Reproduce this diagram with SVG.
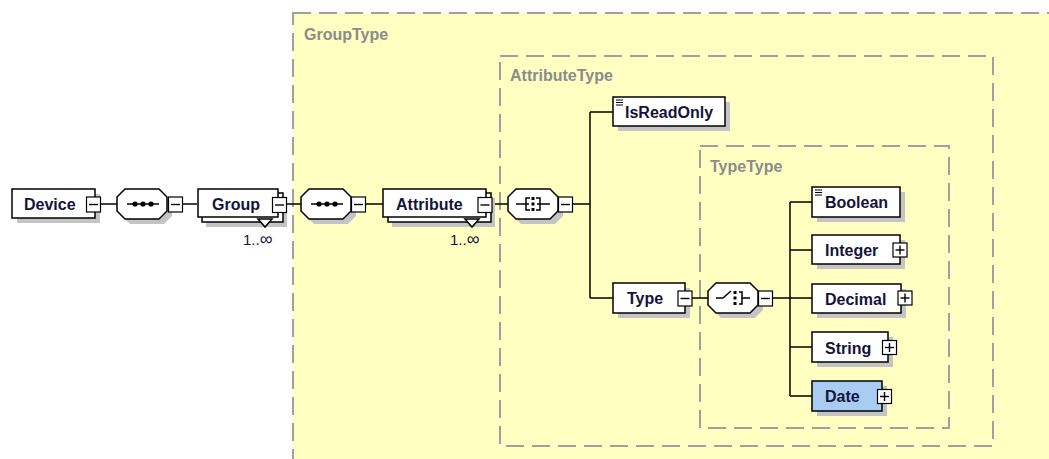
<svg xmlns="http://www.w3.org/2000/svg" width="1049" height="459" viewBox="0 0 1049 459">
  <style>
    .area { fill: #FFFFC2; stroke: #A0A0A0; stroke-width: 2; stroke-dasharray: 18 8; }
    .area-label { font-family: "Liberation Sans", Arial, sans-serif; font-weight: bold; font-size: 16px; fill: #8C8C8C; }
    .shadow { fill: #C4C4C4; }
    .box { fill: #FFFFFF; stroke: #000000; stroke-width: 1.5; }
    .box-sel { fill: #A8CCF2; stroke: #000000; stroke-width: 1.5; }
    .name { font-family: "Liberation Sans", Arial, sans-serif; font-weight: bold; font-size: 16px; fill: #14143A; }
    .occ { font-family: "Liberation Sans", Arial, sans-serif; font-size: 15px; fill: #14143A; }
    .btn { fill: #FFFFFF; stroke: #000000; stroke-width: 1.2; }
    .glyph { stroke: #000000; stroke-width: 1.4; fill: none; }
    .wire { stroke: #000000; stroke-width: 1.5; fill: none; }
    .icon { stroke: #000000; stroke-width: 1; }
  </style>
  <defs>
    <g id="minus">
      <rect class="btn" x="-7" y="-7.5" width="14" height="15"/>
      <line class="glyph" x1="-4.5" y1="0" x2="4.5" y2="0"/>
    </g>
    <g id="plus">
      <rect class="btn" x="-7" y="-7" width="14" height="14"/>
      <line class="glyph" x1="-4.5" y1="0" x2="4.5" y2="0"/>
      <line class="glyph" x1="0" y1="-4.5" x2="0" y2="4.5"/>
    </g>
    <g id="simple">
      <line class="icon" x1="0" y1="0" x2="7" y2="0"/>
      <line class="icon" x1="0" y1="2.5" x2="7" y2="2.5"/>
      <line class="icon" x1="0" y1="5" x2="7" y2="5"/>
    </g>
    <!-- octagon compositor outline, 50 x 30, origin top-left -->
    <polygon id="octo" points="8,0 42,0 50,8 50,22 42,30 8,30 0,22 0,8"/>
  </defs>

  <rect width="1049" height="459" fill="#FFFFFF"/>

  <!-- complex type areas -->
  <g id="GroupType">
    <rect class="area" x="293" y="13" width="800" height="480"/>
    <text class="area-label" x="304" y="40">GroupType</text>
  </g>
  <g id="AttributeType">
    <rect class="area" x="500" y="56" width="493" height="390"/>
    <text class="area-label" x="510" y="81">AttributeType</text>
  </g>
  <g id="TypeType">
    <rect class="area" x="700" y="146" width="249" height="282"/>
    <text class="area-label" x="710" y="172">TypeType</text>
  </g>

  <!-- connectors -->
  <g id="connectors">
    <line class="wire" x1="99" y1="204" x2="117" y2="204"/>
    <line class="wire" x1="182" y1="204" x2="197" y2="204"/>
    <line class="wire" x1="286" y1="204" x2="301" y2="204"/>
    <line class="wire" x1="365" y1="204" x2="383" y2="204"/>
    <line class="wire" x1="491" y1="204" x2="508" y2="204"/>
    <line class="wire" x1="572" y1="204" x2="590" y2="204"/>
    <line class="wire" x1="590" y1="112" x2="590" y2="298"/>
    <line class="wire" x1="590" y1="112" x2="613" y2="112"/>
    <line class="wire" x1="590" y1="298" x2="613" y2="298"/>
    <line class="wire" x1="691" y1="298" x2="708" y2="298"/>
    <line class="wire" x1="772" y1="298" x2="812" y2="298"/>
    <line class="wire" x1="790" y1="202" x2="790" y2="396"/>
    <line class="wire" x1="790" y1="202" x2="812" y2="202"/>
    <line class="wire" x1="790" y1="250" x2="812" y2="250"/>
    <line class="wire" x1="790" y1="347" x2="812" y2="347"/>
    <line class="wire" x1="790" y1="396" x2="812" y2="396"/>
  </g>

  <!-- Device element -->
  <g id="Device">
    <rect class="shadow" x="17" y="194" width="83" height="29"/>
    <rect class="box" x="12" y="189" width="83" height="29"/>
    <text class="name" x="24" y="210">Device</text>
    <use href="#minus" x="93.5" y="204.5"/>
  </g>

  <!-- sequence under Device -->
  <g id="seq-device">
    <use href="#octo" x="122" y="194" class="shadow"/>
    <use href="#octo" x="117" y="189" class="box"/>
    <line class="wire" x1="127" y1="204" x2="159" y2="204"/>
    <circle cx="135" cy="204" r="2.6"/>
    <circle cx="143" cy="204" r="2.6"/>
    <circle cx="151" cy="204" r="2.6"/>
    <use href="#minus" x="175.5" y="204.5"/>
  </g>

  <!-- Group element, 1..unbounded -->
  <g id="Group">
    <rect class="shadow" x="206" y="198" width="81" height="29"/>
    <rect class="box" x="202" y="193" width="81" height="29"/>
    <rect class="box" x="198" y="189" width="80" height="28"/>
    <text class="name" x="212" y="210">Group</text>
    <use href="#minus" x="279.5" y="205"/>
    <polygon class="box" points="258,219 272,219 265,227"/>
    <text class="occ" x="243" y="245">1..<tspan font-size="18">∞</tspan></text>
  </g>

  <!-- sequence under Group -->
  <g id="seq-group">
    <use href="#octo" x="306" y="194" class="shadow"/>
    <use href="#octo" x="301" y="189" class="box"/>
    <line class="wire" x1="311" y1="204" x2="343" y2="204"/>
    <circle cx="319" cy="204" r="2.6"/>
    <circle cx="327" cy="204" r="2.6"/>
    <circle cx="335" cy="204" r="2.6"/>
    <use href="#minus" x="358.5" y="204.5"/>
  </g>

  <!-- Attribute element, 1..unbounded -->
  <g id="Attribute">
    <rect class="shadow" x="392" y="198" width="103" height="29"/>
    <rect class="box" x="388" y="193" width="103" height="29"/>
    <rect class="box" x="383" y="189" width="103" height="28"/>
    <text class="name" x="396" y="210">Attribute</text>
    <use href="#minus" x="485" y="205"/>
    <polygon class="box" points="465,219 479,219 472,227"/>
    <text class="occ" x="450" y="245">1..<tspan font-size="18">∞</tspan></text>
  </g>

  <!-- all compositor under Attribute -->
  <g id="all-attribute">
    <use href="#octo" x="513" y="194" class="shadow"/>
    <use href="#octo" x="508" y="189" class="box"/>
    <line class="wire" x1="516" y1="204" x2="526" y2="204"/>
    <line class="wire" x1="540" y1="204" x2="550" y2="204"/>
    <path class="wire" d="M530,198 H526 V210 H530 M526,204 H529"/>
    <path class="wire" d="M536,198 H540 V210 H536 M540,204 H537"/>
    <rect x="531.5" y="197" width="3" height="3"/>
    <rect x="531.5" y="202.5" width="3" height="3"/>
    <rect x="531.5" y="208" width="3" height="3"/>
    <use href="#minus" x="565.5" y="204.5"/>
  </g>

  <!-- IsReadOnly element -->
  <g id="IsReadOnly">
    <rect class="shadow" x="618" y="102" width="112" height="29"/>
    <rect class="box" x="613" y="97" width="112" height="29"/>
    <use href="#simple" x="616" y="100"/>
    <text class="name" x="625" y="118">IsReadOnly</text>
  </g>

  <!-- Type element -->
  <g id="Type">
    <rect class="shadow" x="618" y="288" width="72" height="30"/>
    <rect class="box" x="613" y="283" width="72" height="30"/>
    <text class="name" x="627" y="304">Type</text>
    <use href="#minus" x="685" y="298.5"/>
  </g>

  <!-- choice compositor under Type -->
  <g id="choice-type">
    <use href="#octo" x="713" y="288" class="shadow"/>
    <use href="#octo" x="708" y="283" class="box"/>
    <line class="wire" x1="716" y1="298" x2="723" y2="298"/>
    <line class="wire" x1="723" y1="298" x2="731" y2="291"/>
    <rect x="733.5" y="291" width="3" height="3"/>
    <rect x="733.5" y="296.5" width="3" height="3"/>
    <rect x="733.5" y="302" width="3" height="3"/>
    <path class="wire" d="M739,292 H742 V304 H739 M742,298 H750"/>
    <use href="#minus" x="765.5" y="298.5"/>
  </g>

  <!-- TypeType choices -->
  <g id="Boolean">
    <rect class="shadow" x="817" y="192" width="88" height="30"/>
    <rect class="box" x="812" y="187" width="88" height="30"/>
    <use href="#simple" x="815" y="190"/>
    <text class="name" x="825" y="208">Boolean</text>
  </g>

  <g id="Integer">
    <rect class="shadow" x="817" y="240" width="88" height="29"/>
    <rect class="box" x="812" y="235" width="88" height="29"/>
    <text class="name" x="825" y="256">Integer</text>
    <use href="#plus" x="900" y="250"/>
  </g>

  <g id="Decimal">
    <rect class="shadow" x="817" y="289" width="89" height="29"/>
    <rect class="box" x="812" y="284" width="89" height="29"/>
    <text class="name" x="825" y="305">Decimal</text>
    <use href="#plus" x="905" y="298"/>
  </g>

  <g id="String">
    <rect class="shadow" x="817" y="337" width="76" height="30"/>
    <rect class="box" x="812" y="332" width="76" height="30"/>
    <text class="name" x="825" y="354">String</text>
    <use href="#plus" x="889.5" y="347.5"/>
  </g>

  <g id="Date">
    <rect class="shadow" x="817" y="386" width="70" height="30"/>
    <rect class="box-sel" x="812" y="381" width="70" height="30"/>
    <text class="name" x="825" y="402">Date</text>
    <use href="#plus" x="884.5" y="396.5"/>
  </g>
</svg>
